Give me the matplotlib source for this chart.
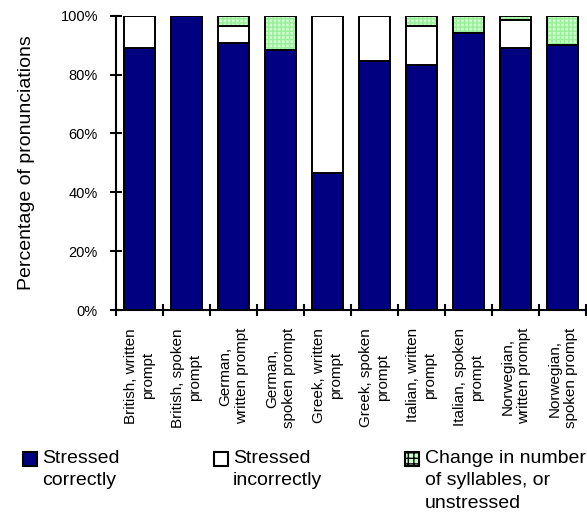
import matplotlib
matplotlib.use("Agg")
import matplotlib.pyplot as plt
from matplotlib.patches import Rectangle
import numpy as np

plt.rcParams["font.family"] = ["Liberation Sans", "DejaVu Sans"]

categories = [
    "British, written\nprompt",
    "British, spoken\nprompt",
    "German,\nwritten prompt",
    "German,\nspoken prompt",
    "Greek, written\nprompt",
    "Greek, spoken\nprompt",
    "Italian, written\nprompt",
    "Italian, spoken\nprompt",
    "Norwegian,\nwritten prompt",
    "Norwegian,\nspoken prompt",
]
stressed_correctly = [0.89, 1.00, 0.907, 0.884, 0.466, 0.846, 0.832, 0.941, 0.890, 0.901]
stressed_incorrectly = [0.11, 0.00, 0.059, 0.000, 0.534, 0.154, 0.134, 0.000, 0.094, 0.000]
changed_or_unstressed = [0.00, 0.00, 0.034, 0.116, 0.000, 0.000, 0.034, 0.059, 0.016, 0.099]
yticks = [0, 0.2, 0.4, 0.6, 0.8, 1.0]
ytick_labels = ["0%", "20%", "40%", "60%", "80%", "100%"]
legend_labels = ["Stressed\ncorrectly", "Stressed\nincorrectly",
                 "Change in number\nof syllables, or\nunstressed"]

navy = "#000080"
green_fill = "#ccffcc"
green_hatch = "#99ee99"

W, H = 587, 517
fig = plt.figure(figsize=(W / 100, H / 100), dpi=100)
ax = fig.add_axes([116 / W, 1 - 310 / H, 470 / W, (310 - 15.7) / H])

x = np.arange(len(categories))
width = 0.68
c = np.array(stressed_correctly)
i = np.array(stressed_incorrectly)
g = np.array(changed_or_unstressed)

ax.bar(x, c, width, color=navy, edgecolor="black", linewidth=1.4, zorder=2)
ax.bar(x, i, width, bottom=c, color="white", edgecolor="black", linewidth=1.4, zorder=2)
# hatched fill first, then black outline on top
ax.bar(x, g, width, bottom=c + i, color=green_fill, edgecolor=green_hatch,
       hatch="++++", linewidth=0, zorder=2)
ax.bar(x, g, width, bottom=c + i, fill=False, edgecolor="black", linewidth=1.4, zorder=3)

ax.set_xlim(-0.5, len(categories) - 0.5)
ax.set_ylim(0, 1)
ax.set_yticks(yticks)
ax.set_yticklabels(ytick_labels, fontsize=10.5)
ax.tick_params(axis="y", direction="inout", length=8, width=1.5, pad=9)

ax.set_xticks(np.arange(-0.5, len(categories)), labels=[])
ax.set_xticks(x, minor=True)
ax.set_xticklabels(categories, minor=True, rotation=90, fontsize=11,
                   va="top", ha="center", multialignment="center", linespacing=1.2)
ax.tick_params(axis="x", which="major", direction="inout", length=8, width=1.5)
ax.tick_params(axis="x", which="minor", length=0, pad=13)

for s in ["top", "right"]:
    ax.spines[s].set_visible(False)
for s in ["left", "bottom"]:
    ax.spines[s].set_linewidth(1.5)

ax.set_ylabel("Percentage of pronunciations", fontsize=14)
ax.yaxis.set_label_coords(-(116 - 35) / 470, 0.5)

# legend drawn by hand so the square sits beside the first line
legend_styles = [
    dict(facecolor=navy, edgecolor="black"),
    dict(facecolor="white", edgecolor="black"),
    dict(facecolor=green_fill, edgecolor="black", hatch="+++"),
]
square_x = [23, 214, 405]
text_x = [42, 233, 425]
for label, style, sx, tx in zip(legend_labels, legend_styles, square_x, text_x):
    fig.add_artist(Rectangle((sx / W, 1 - 466 / H), 14 / W, 14 / H,
                             transform=fig.transFigure, linewidth=1.5, **style))
    fig.text(tx / W, 1 - 450 / H, label, fontsize=14, va="top", ha="left",
             linespacing=1.42)

plt.savefig("out.png", dpi=100)
